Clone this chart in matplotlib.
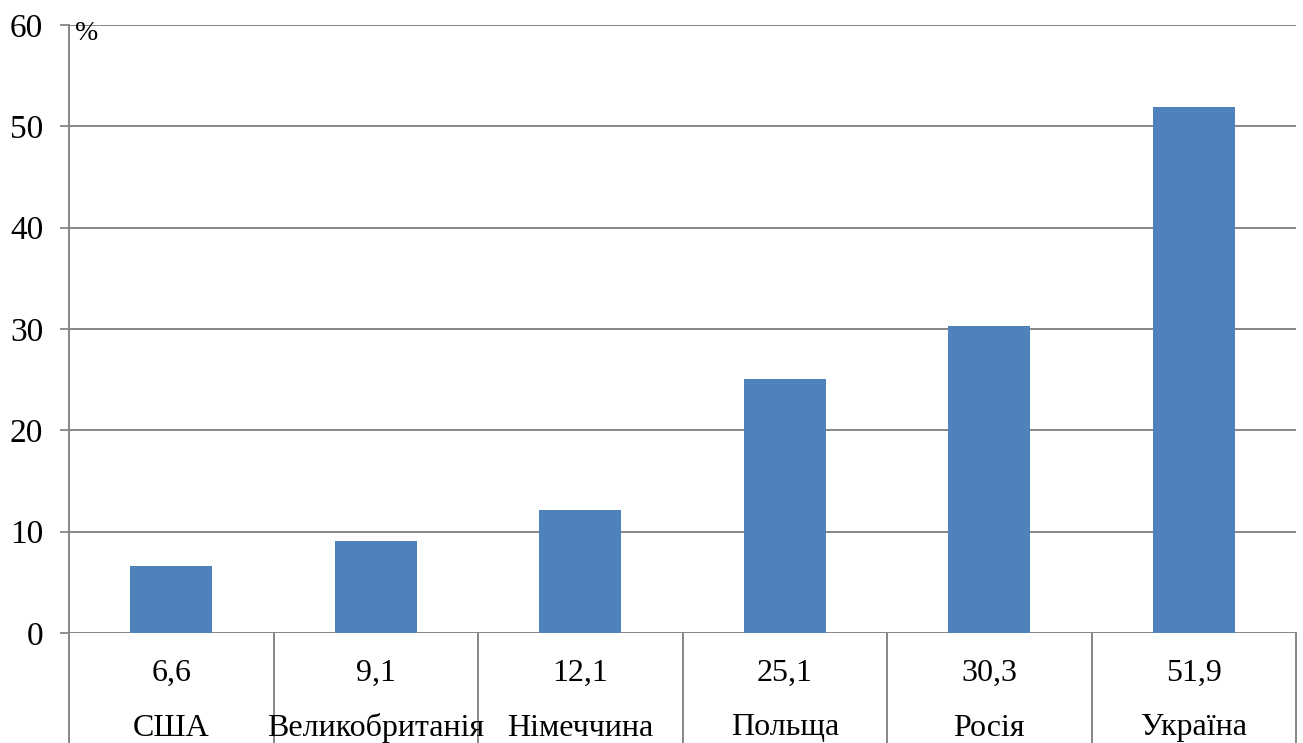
import matplotlib
matplotlib.use("Agg")
import matplotlib.pyplot as plt
from matplotlib.transforms import blended_transform_factory

countries = ["США", "Великобританія", "Німеччина", "Польща", "Росія", "Україна"]
values = [6.6, 9.1, 12.1, 25.1, 30.3, 51.9]
value_labels = ["6,6", "9,1", "12,1", "25,1", "30,3", "51,9"]
y_ticks = [0, 10, 20, 30, 40, 50, 60]

plt.rcParams["font.family"] = ["Liberation Serif", "DejaVu Serif"]

W, H = 1303, 743
fig = plt.figure(figsize=(W / 100, H / 100), dpi=100)
left, right, top, bottom = 69, 1296, 25, 633
ax = fig.add_axes([left / W, (H - bottom) / H, (right - left) / W, (bottom - top) / H])

grid_color = "#868686"
bar_color = "#4F81BD"

x = list(range(len(countries)))
ax.bar(x, values, width=0.4, color=bar_color, zorder=3)

ax.set_xlim(-0.5, len(countries) - 0.5)
ax.set_ylim(0, 60)
ax.set_yticks(y_ticks)
ax.set_yticklabels([str(t) for t in y_ticks], fontsize=24)
ax.set_xticks([])
ax.tick_params(axis="y", length=6.5, width=1.3, color=grid_color, pad=12)

for t in y_ticks:
    ax.axhline(t, color=grid_color, lw=1.4, zorder=1)

for s in ["top", "right", "bottom"]:
    ax.spines[s].set_visible(False)
ax.spines["left"].set_color(grid_color)
ax.spines["left"].set_linewidth(1.4)

ax.text(0.005, 1.006, "%", transform=ax.transAxes, fontsize=20,
        ha="left", va="top")

# data table beneath the axis
trans = blended_transform_factory(ax.transData, ax.transAxes)
table_depth = -(H - bottom + 5) / (bottom - top)
for b in [i - 0.5 for i in range(len(countries) + 1)]:
    ax.plot([b, b], [0, table_depth], transform=trans, color=grid_color,
            lw=1.4, clip_on=False)
row1 = -(673 - bottom) / (bottom - top)
row2 = -(728 - bottom) / (bottom - top)
for i, (lab, name) in enumerate(zip(value_labels, countries)):
    ax.text(i, row1, lab, transform=trans, ha="center", va="center", fontsize=23)
    ax.text(i, row2, name, transform=trans, ha="center", va="center", fontsize=23)

fig.savefig("out.png", dpi=100)
